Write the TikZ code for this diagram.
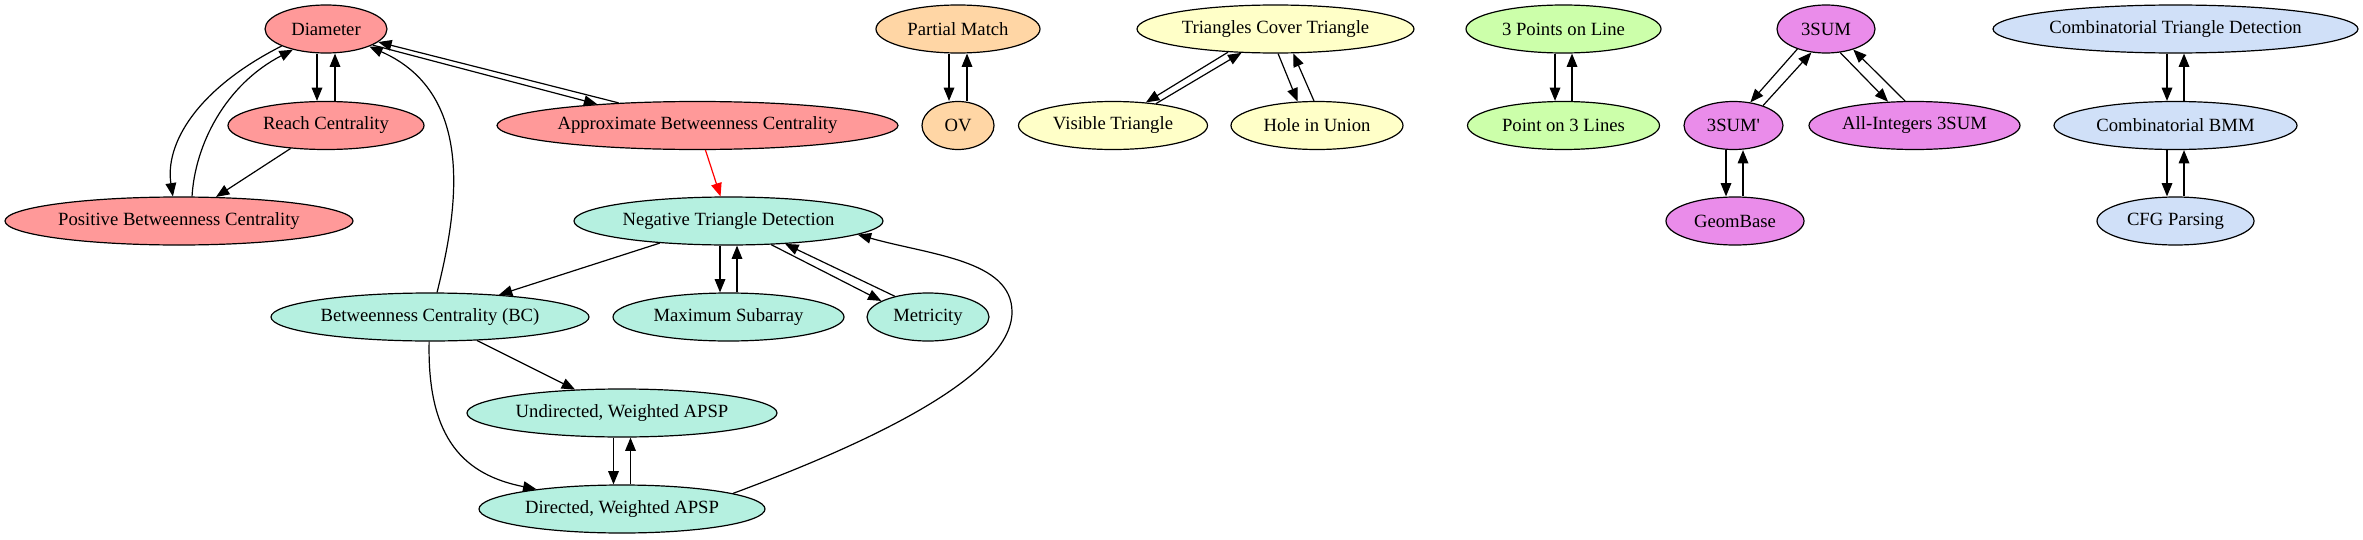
\documentclass[tikz,border=0pt]{standalone}
\usepackage{fontspec}
\setmainfont{Liberation Serif}
\usetikzlibrary{shapes.geometric,arrows.meta}
\definecolor{cred}{RGB}{255,153,153}
\definecolor{cteal}{RGB}{181,240,224}
\definecolor{corange}{RGB}{255,214,165}
\definecolor{cyellow}{RGB}{255,255,200}
\definecolor{cgreen}{RGB}{204,255,170}
\definecolor{cpurple}{RGB}{234,140,234}
\definecolor{cblue}{RGB}{208,224,248}
\begin{document}
\begin{tikzpicture}[x=0.75pt,y=-0.75pt,
  nd/.style={ellipse, draw, line width=0.9pt, inner sep=0pt, minimum height=36pt,
             font=\fontsize{14pt}{16pt}\selectfont},
  ew/.style={minimum width=#1*0.75pt},
  arr/.style={-{Triangle[length=10pt,width=8pt]}, line width=0.9pt}]
\useasboundingbox (0,0) rectangle (2363,539);
% red group
\node[nd,ew=122,fill=cred] (diam) at (326,29) {Diameter};
\node[nd,ew=196,fill=cred] (reach) at (326,125.5) {Reach Centrality};
\node[nd,ew=348,fill=cred] (pbc) at (179,221) {Positive Betweenness Centrality};
\node[nd,ew=401,fill=cred] (abc) at (697.5,125.5) {Approximate Betweenness Centrality};
% teal group
\node[nd,ew=309,fill=cteal] (ntd) at (728.5,221) {Negative Triangle Detection};
\node[nd,ew=318,fill=cteal] (bc) at (430,317) {Betweenness Centrality (BC)};
\node[nd,ew=231,fill=cteal] (ms) at (728.5,317) {Maximum Subarray};
\node[nd,ew=122,fill=cteal] (met) at (928,317) {Metricity};
\node[nd,ew=310,fill=cteal] (uw) at (622,413) {Undirected, Weighted APSP};
\node[nd,ew=286,fill=cteal] (dw) at (622,509) {Directed, Weighted APSP};
% orange
\node[nd,ew=164,fill=corange] (pm) at (958,29) {Partial Match};
\node[nd,ew=72,fill=corange] (ov) at (958,125.5) {OV};
% yellow
\node[nd,ew=277,fill=cyellow] (tct) at (1275.5,29) {Triangles Cover Triangle};
\node[nd,ew=189,fill=cyellow] (vt) at (1113,125.5) {Visible Triangle};
\node[nd,ew=172,fill=cyellow] (hu) at (1317,125.5) {Hole in Union};
% green
\node[nd,ew=195,fill=cgreen] (tpl) at (1563.5,29) {3 Points on Line};
\node[nd,ew=192,fill=cgreen] (ptl) at (1563.5,125.5) {Point on 3 Lines};
% purple
\node[nd,ew=98,fill=cpurple] (s3) at (1826,29) {3SUM};
\node[nd,ew=99,fill=cpurple] (s3p) at (1733.5,125.5) {3SUM\textquotesingle};
\node[nd,ew=211,fill=cpurple] (ai) at (1914.5,125.5) {All-Integers 3SUM};
\node[nd,ew=138,fill=cpurple] (gb) at (1735,221) {GeomBase};
% blue
\node[nd,ew=365,fill=cblue] (ctd) at (2175.5,29) {Combinatorial Triangle Detection};
\node[nd,ew=243,fill=cblue] (cbmm) at (2175.5,125.5) {Combinatorial BMM};
\node[nd,ew=157,fill=cblue] (cfg) at (2175.5,221) {CFG Parsing};

% edges: red group
\draw[arr] ([shift={(-9,0)}]diam.south) -- ([shift={(-9,0)}]reach.north);
\draw[arr] ([shift={(9,0)}]reach.north) -- ([shift={(9,0)}]diam.south);
\draw[arr] (diam.341) -- (abc.168);
\draw[arr] (abc.164) -- (diam.346);
\draw[arr] (diam.201) .. controls (195,90) and (165,145) .. (pbc.104);
\draw[arr] (pbc.62) .. controls (195,145) and (225,85) .. (diam.212);
\draw[arr] (reach) -- (pbc);
\draw[arr] (bc.74) .. controls (455,220) and (480,95) .. (diam.338);
\draw[arr, red] (abc) -- (ntd);
% teal group
\draw[arr] (ntd) -- (bc);
\draw[arr] ([shift={(-8.5,0)}]ntd.south) -- ([shift={(-8.5,0)}]ms.north);
\draw[arr] ([shift={(8.5,0)}]ms.north) -- ([shift={(8.5,0)}]ntd.south);
\draw[arr] (ntd.331) -- (met.161);
\draw[arr] (met.148) -- (ntd.338.5);
\draw[arr] (dw.8) .. controls (850,450) and (1012,380) .. (1012,312)
                 .. controls (1012,260) and (930,255) .. (ntd.354.6);
\draw[arr] (bc) -- (uw);
\draw[arr] (bc.268) .. controls (427,440) and (465,475) .. (dw.167);
\draw[arr] ([shift={(-8.5,0)}]uw.south) -- ([shift={(-8.5,0)}]dw.north);
\draw[arr] ([shift={(8.5,0)}]dw.north) -- ([shift={(8.5,0)}]uw.south);
% orange
\draw[arr] ([shift={(-9,0)}]pm.south) -- ([shift={(-9,0)}]ov.north);
\draw[arr] ([shift={(9,0)}]ov.north) -- ([shift={(9,0)}]pm.south);
% yellow
\draw[arr] (tct.206.5) -- (vt.35);
\draw[arr] (vt.27) -- (tct.215.5);
\draw[arr] (tct.276) -- (hu.129);
\draw[arr] (hu.97) -- (tct.306.3);
% green
\draw[arr] ([shift={(-8.5,0)}]tpl.south) -- ([shift={(-8.5,0)}]ptl.north);
\draw[arr] ([shift={(8.5,0)}]ptl.north) -- ([shift={(8.5,0)}]tpl.south);
% purple
\draw[arr] (s3.215) -- (s3p.54);
\draw[arr] (s3p.34.5) -- (s3.238.7);
\draw[arr] (s3.301.3) -- (ai.138.8);
\draw[arr] (ai.111.7) -- (s3.323.5);
\draw[arr] ([shift={(-7.5,0)}]s3p.south) -- ([shift={(-9,0)}]gb.north);
\draw[arr] ([shift={(8,0)}]gb.north) -- ([shift={(9.5,0)}]s3p.south);
% blue
\draw[arr] ([shift={(-8.5,0)}]ctd.south) -- ([shift={(-8.5,0)}]cbmm.north);
\draw[arr] ([shift={(8.5,0)}]cbmm.north) -- ([shift={(8.5,0)}]ctd.south);
\draw[arr] ([shift={(-8.5,0)}]cbmm.south) -- ([shift={(-8.5,0)}]cfg.north);
\draw[arr] ([shift={(8.5,0)}]cfg.north) -- ([shift={(8.5,0)}]cbmm.south);
\end{tikzpicture}
\end{document}
